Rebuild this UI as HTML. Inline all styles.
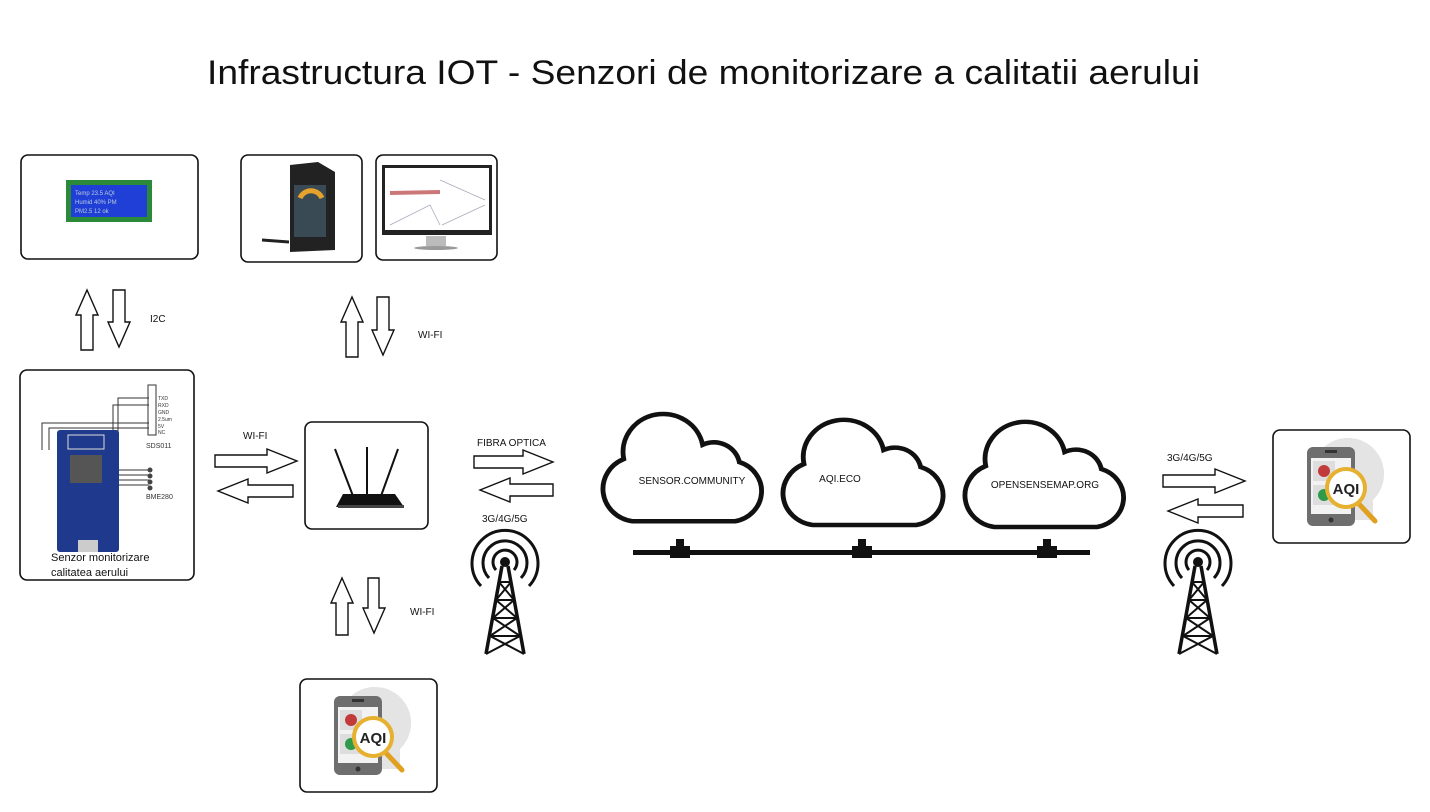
<!DOCTYPE html>
<html><head><meta charset="utf-8"><style>
html,body{margin:0;padding:0;background:#fff;}
svg{display:block;font-family:"Liberation Sans",Arial,sans-serif;}
</style></head><body>
<svg width="1430" height="812" viewBox="0 0 1430 812" xmlns="http://www.w3.org/2000/svg">
<rect width="1430" height="812" fill="#fff"/>
<text x="207" y="84" font-size="34" textLength="993" lengthAdjust="spacingAndGlyphs" fill="#111">Infrastructura IOT - Senzori de monitorizare a calitatii aerului</text>

<g fill="#fff" stroke="#111" stroke-width="1.6">
<rect x="21" y="155" width="177" height="104" rx="7"/>
<rect x="241" y="155" width="121" height="107" rx="7"/>
<rect x="376" y="155" width="121" height="105" rx="7"/>
<rect x="20" y="370" width="174" height="210" rx="7"/>
<rect x="305" y="422" width="123" height="107" rx="7"/>
<rect x="300" y="679" width="137" height="113" rx="7"/>
<rect x="1273" y="430" width="137" height="113" rx="7"/>
</g>

<!-- LCD -->
<rect x="66" y="180" width="86" height="42" fill="#2a8a3a"/>
<rect x="71" y="185" width="76" height="32" fill="#1f3fd6"/>
<g fill="#bcd" font-size="6"><text x="75" y="195">Temp 23.5 AQI</text><text x="75" y="204">Humid 40% PM</text><text x="75" y="213">PM2.5 12 ok</text></g>

<!-- display device -->
<path d="M290,165 L318,162 L335,172 L335,250 L290,252 Z" fill="#222"/>
<rect x="294" y="185" width="32" height="52" fill="#3a4a55"/>
<path d="M300,198 A12,12 0 0 1 322,198" stroke="#e6a22a" stroke-width="5" fill="none"/>
<path d="M289,242 L262,240" stroke="#222" stroke-width="3"/>

<!-- monitor -->
<rect x="382" y="165" width="110" height="70" fill="#222"/>
<rect x="385" y="168" width="104" height="62" fill="#fff"/>
<path d="M390,193 L440,192" stroke="#c77" stroke-width="4"/>
<path d="M440,180 L485,200 M390,225 L430,205 L440,225 M442,225 L485,205" stroke="#aab" stroke-width="0.8" fill="none"/>
<rect x="426" y="236" width="20" height="10" fill="#bbb"/>
<ellipse cx="436" cy="248" rx="22" ry="2" fill="#999"/>

<!-- sensor board -->
<g stroke="#333" stroke-width="1" fill="none">
<path d="M42,450 V423 H149 M49,450 V428 H149 M113,455 V405 H149 M118,455 V398 H149 M118,470 H149 M118,475 H149 M118,480 H149 M118,485 H149"/>
<rect x="148" y="385" width="8" height="50"/>
</g>
<g font-size="5" fill="#333"><text x="158" y="400">TXD</text><text x="158" y="407">RXD</text><text x="158" y="414">GND</text><text x="158" y="421">2.5um</text><text x="158" y="428">5V</text><text x="158" y="434">NC</text></g>
<text x="146" y="448" font-size="7" fill="#333">SDS011</text>
<g fill="#444"><circle cx="150" cy="470" r="2.5"/><circle cx="150" cy="476" r="2.5"/><circle cx="150" cy="482" r="2.5"/><circle cx="150" cy="488" r="2.5"/></g>
<text x="146" y="499" font-size="7" fill="#333">BME280</text>
<rect x="57" y="430" width="62" height="122" rx="3" fill="#1f3a8c"/>
<rect x="68" y="435" width="36" height="14" fill="none" stroke="#ddd"/>
<rect x="70" y="455" width="32" height="28" fill="#555"/>
<rect x="78" y="540" width="20" height="12" fill="#ccc"/>
<text x="51" y="561" font-size="11" fill="#111">Senzor monitorizare</text>
<text x="51" y="576" font-size="11" fill="#111">calitatea aerului</text>

<!-- router -->
<path d="M336,507 L343,494 L395,494 L404,507 Z" fill="#111"/>
<path d="M353,496 L335,449 M367,494 L367,447 M381,496 L398,449" stroke="#111" stroke-width="2"/>
<rect x="338" y="505" width="66" height="3" fill="#444"/>

<!-- arrows -->
<g fill="#fff" stroke="#111" stroke-width="1.4" stroke-linejoin="miter">
<path d="M215,455 H267 V449 L297,461 L267,473 V467 H215 Z"/>
<path d="M293,485 H248 V479 L218,491 L248,503 V497 H293 Z"/>
<path d="M474,456 H523 V450 L553,462 L523,474 V468 H474 Z"/>
<path d="M553,484 H510 V478 L480,490 L510,502 V496 H553 Z"/>
<path d="M1163,475 H1215 V469 L1245,481 L1215,493 V487 H1163 Z"/>
<path d="M1243,505 H1198 V499 L1168,511 L1198,523 V517 H1243 Z"/>
<path d="M81,350 V315 H76 L87,290 L98,315 H93 V350 Z"/>
<path d="M113,290 V322 H108 L119,347 L130,322 H125 V290 Z"/>
<path d="M346,357 V322 H341 L352,297 L363,322 H358 V357 Z"/>
<path d="M377,297 V330 H372 L383,355 L394,330 H389 V297 Z"/>
<path d="M336,635 V603 H331 L342,578 L353,603 H348 V635 Z"/>
<path d="M368,578 V608 H363 L374,633 L385,608 H379 V578 Z"/>
</g>
<g font-size="10" fill="#111">
<text x="150" y="322">I2C</text>
<text x="418" y="338">WI-FI</text>
<text x="243" y="439">WI-FI</text>
<text x="477" y="446">FIBRA OPTICA</text>
<text x="482" y="522">3G/4G/5G</text>
<text x="410" y="615">WI-FI</text>
<text x="1167" y="461">3G/4G/5G</text>
</g>

<!-- clouds -->
<defs>
<path id="cl" d="M30,113 L125,113 A30,30 0 0 0 129,55 A24,24 0 0 0 95,38 A36,36 0 0 0 22,52 A32,32 0 0 0 30,113 Z"/>
<g id="tw" fill="none" stroke="#111">
<circle cx="0" cy="0" r="5" fill="#111" stroke="none"/>
<path d="M-9,8 A12,12 0 1 1 9,8" stroke-width="3"/>
<path d="M-16,16 A22,22 0 1 1 16,16" stroke-width="3"/>
<path d="M-24,24 A33,33 0 1 1 24,24" stroke-width="3"/>
<path d="M-3,4 L-19,92 M3,4 L19,92" stroke-width="3.5"/>
<path d="M-6,20 L6,20 M-9,38 L9,38 M-12,56 L12,56 M-15,74 L15,74 M-6,20 L9,38 M6,20 L-9,38 M-9,38 L12,56 M9,38 L-12,56 M-12,56 L15,74 M12,56 L-15,74 M-15,74 L19,92 M15,74 L-19,92" stroke-width="2"/>
</g>
</defs>
<g fill="#fff" stroke="#111" stroke-width="4.5">
<use href="#cl" transform="translate(600,406) scale(1.08,1.02)"/>
<use href="#cl" transform="translate(780,412) scale(1.09,1.0)"/>
<use href="#cl" transform="translate(962,414) scale(1.08,1.0)"/>
</g>
<g font-size="10" fill="#111" text-anchor="middle">
<text x="692" y="484">SENSOR.COMMUNITY</text>
<text x="840" y="482">AQI.ECO</text>
<text x="1045" y="488">OPENSENSEMAP.ORG</text>
</g>
<rect x="633" y="550" width="457" height="5" fill="#111"/>
<g fill="#111">
<rect x="670" y="546" width="20" height="12"/><rect x="676" y="539" width="8" height="8"/>
<rect x="852" y="546" width="20" height="12"/><rect x="858" y="539" width="8" height="8"/>
<rect x="1037" y="546" width="20" height="12"/><rect x="1043" y="539" width="8" height="8"/>
</g>

<use href="#tw" transform="translate(505,562)"/>
<use href="#tw" transform="translate(1198,562)"/>

<!-- AQI phone icon -->
<defs>
<g id="aqi">
<path d="M50,18 A35,35 0 0 1 100,70 L100,90 L70,90 Z" fill="#e4e4e4"/>
<rect x="34" y="17" width="48" height="79" rx="6" fill="#6e6e6e"/>
<rect x="38" y="28" width="40" height="56" fill="#f2f2f2"/>
<rect x="40" y="31" width="22" height="20" fill="#ddd"/><rect x="40" y="55" width="22" height="20" fill="#ddd"/>
<circle cx="51" cy="41" r="6" fill="#c23b3b"/>
<circle cx="51" cy="65" r="6" fill="#2e9a4a"/>
<rect x="52" y="20" width="12" height="3" fill="#333"/>
<circle cx="58" cy="90" r="2.5" fill="#333"/>
<line x1="86" y1="74" x2="102" y2="91" stroke="#e0a020" stroke-width="5" stroke-linecap="round"/>
<circle cx="73" cy="58" r="19" fill="#fff" stroke="#e6b030" stroke-width="4"/>
<text x="73" y="64" font-size="15" font-weight="bold" text-anchor="middle" fill="#222">AQI</text>
</g>
</defs>
<use href="#aqi" transform="translate(1273,430)"/>
<use href="#aqi" transform="translate(300,679)"/>
</svg>
</body></html>
